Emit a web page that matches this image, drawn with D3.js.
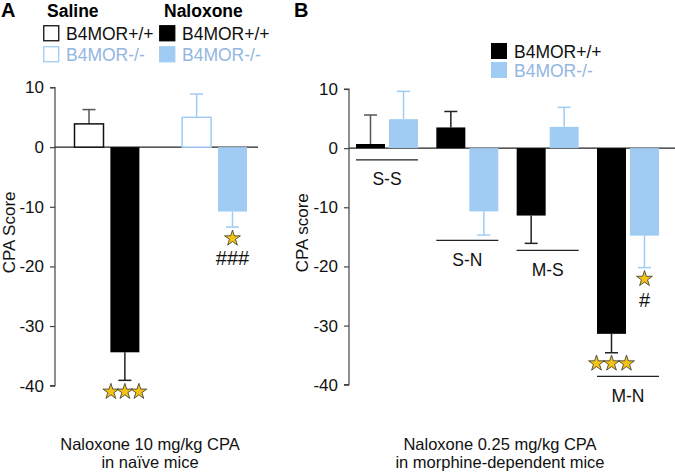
<!DOCTYPE html>
<html><head><meta charset="utf-8">
<script src="https://cdn.jsdelivr.net/npm/d3@7"></script>
<style>
body{margin:0;background:#fff;}
text{font-family:"Liberation Sans",Arial,sans-serif;}
</style></head>
<body><svg id="c" width="675" height="472"></svg>
<script>
// ---- Data ----
const yTicks = [10, 0, -10, -20, -30, -40];
// Panel A
const aCategories = ["Saline B4MOR+/+", "Naloxone B4MOR+/+", "Saline B4MOR-/-", "Naloxone B4MOR-/-"];
const aSlots = [0, 1, 3, 4];
const aValues = [3.9, -34.4, 5.0, -10.8];
const aErrors = [2.4, 4.7, 3.9, 2.6];
// Panel B
const bGroups = ["S-S", "S-N", "M-S", "M-N"];
const bWildValues = [0.7, 3.5, -11.4, -31.4];
const bWildErrors = [4.9, 2.7, 4.7, 3.2];
const bKoValues = [4.9, -10.7, 3.6, -14.8];
const bKoErrors = [4.7, 4.0, 3.3, 5.4];
const bGroupLineY = [-2.0, -15.6, -17.3, -38.6];

const BLUE = "#a0ccf4", BLUE_TXT = "#93b6e2", GOLD = "#f3c316";
const svg = d3.select("#c");

// ---- scales ----
const yA = d3.scaleLinear().domain([-40, 10]).range([385.7, 87.5]);
const yB = d3.scaleLinear().domain([-40, 10]).range([384.7, 89]);
const xA = d3.scaleLinear().domain([0, 4]).range([89, 232.5]);
const xB = d3.scalePoint().domain(bGroups).range([387, 628]);
const barW = 29;

function drawAxis(x0, y, xEnd, label, labelX) {
  const g = svg.append("g").attr("transform", `translate(${x0},0)`)
    .call(d3.axisLeft(y).tickValues(yTicks).tickSize(5).tickPadding(6).tickFormat(d => String(d)));
  g.select(".domain").attr("stroke", "#444").attr("stroke-width", 1.2).attr("d", `M-5,${y(10)}H0V${y(-40)}H-5`);
  g.selectAll(".tick line").attr("stroke", "#444").attr("stroke-width", 1.2);
  g.selectAll(".tick text").attr("font-size", 17).attr("fill", "#111")
    .style("font-family", "Liberation Sans, Arial, sans-serif");
  svg.append("line").attr("x1", x0).attr("x2", xEnd).attr("y1", y(0)).attr("y2", y(0))
    .attr("stroke", "#222").attr("stroke-width", 1.3);
  svg.append("text").attr("transform", `translate(${labelX},${y(-14.3)}) rotate(-90)`)
    .attr("text-anchor", "middle").attr("font-size", 17).attr("fill", "#111").text(label);
}

function bar(cx, v, err, y, style) {
  const top = y(Math.max(v, 0)), bot = y(Math.min(v, 0));
  const end = y(v >= 0 ? v + err : v - err);
  const start = v >= 0 ? top : bot;
  svg.append("line").attr("x1", cx).attr("x2", cx).attr("y1", start).attr("y2", end)
    .attr("stroke", style.err).attr("stroke-width", 1.5);
  svg.append("line").attr("x1", cx - 6.5).attr("x2", cx + 6.5).attr("y1", end).attr("y2", end)
    .attr("stroke", style.err).attr("stroke-width", 1.5);
  svg.append("rect").attr("x", cx - barW / 2).attr("width", barW)
    .attr("y", top).attr("height", Math.max(bot - top, 0.5))
    .attr("fill", style.fill).attr("stroke", style.stroke).attr("stroke-width", style.sw || 0);
}

function stars(cxs, y) {
  cxs.forEach(cx => svg.append("path").attr("d", d3.symbol(d3.symbolStar, 78)())
    .attr("transform", `translate(${cx},${y})`).attr("fill", GOLD)
    .attr("stroke", "#333").attr("stroke-width", 0.8));
}

// ---- Panel A ----
drawAxis(55, yA, 258, "CPA Score", 15);
const aStyles = [
  {fill: "#fff", stroke: "#111", sw: 1.5, err: "#555"},
  {fill: "#000", stroke: "#000", sw: 0, err: "#222"},
  {fill: "#fff", stroke: BLUE, sw: 1.5, err: BLUE},
  {fill: BLUE, stroke: BLUE, sw: 0, err: BLUE}
];
aValues.forEach((v, i) => bar(xA(aSlots[i]), v, aErrors[i], yA, aStyles[i]));
stars([xA(1) - 14, xA(1), xA(1) + 14], yA(-41.0));
stars([xA(4)], yA(-15.3));
svg.append("text").attr("x", xA(4)).attr("y", yA(-18.6)).attr("dy", "0.36em")
  .attr("text-anchor", "middle").attr("font-size", 20).attr("fill", "#111").text("###");

// ---- Panel B ----
drawAxis(349, yB, 675, "CPA score", 308);
const off = 16.5;
bGroups.forEach((g, i) => {
  const c = xB(g);
  bar(c - off, bWildValues[i], bWildErrors[i], yB, {fill: "#000", stroke: "#000", err: i === 0 ? "#555" : "#222"});
  bar(c + off, bKoValues[i], bKoErrors[i], yB, {fill: BLUE, stroke: BLUE, err: BLUE});
  const ly = yB(bGroupLineY[i]);
  svg.append("line").attr("x1", c - 31).attr("x2", c + 31).attr("y1", ly).attr("y2", ly)
    .attr("stroke", "#222").attr("stroke-width", 1.2);
  svg.append("text").attr("x", c).attr("y", ly + 19).attr("dy", "0.36em")
    .attr("text-anchor", "middle").attr("font-size", 17.5).attr("fill", "#111").text(g);
});
const mn = xB("M-N");
stars([mn - off - 15, mn - off, mn - off + 15], yB(-36.4));
stars([mn + off], yB(-22.1));
svg.append("text").attr("x", mn + off).attr("y", yB(-25.6)).attr("dy", "0.36em")
  .attr("text-anchor", "middle").attr("font-size", 20).attr("fill", "#111").text("#");

// ---- Legends & labels ----
svg.append("text").attr("x", 1).attr("y", 17).attr("font-size", 20).attr("font-weight", "bold").text("A");
svg.append("text").attr("x", 294).attr("y", 17).attr("font-size", 20).attr("font-weight", "bold").text("B");
svg.append("text").attr("x", 47).attr("y", 17).attr("font-size", 17.5).attr("font-weight", "bold").text("Saline");
svg.append("text").attr("x", 164).attr("y", 17).attr("font-size", 17.5).attr("font-weight", "bold").text("Naloxone");

const legA = [
  {x: 43, y: 25, fill: "#fff", stroke: "#111", txt: "B4MOR+/+", col: "#111"},
  {x: 43, y: 46, fill: "#fff", stroke: BLUE, txt: "B4MOR-/-", col: BLUE_TXT},
  {x: 159, y: 25, fill: "#000", stroke: "#000", txt: "B4MOR+/+", col: "#111"},
  {x: 159, y: 46, fill: BLUE, stroke: BLUE, txt: "B4MOR-/-", col: BLUE_TXT}
];
legA.forEach(d => {
  svg.append("rect").attr("x", d.x + 0.75).attr("y", d.y + 0.75).attr("width", 15).attr("height", 15)
    .attr("fill", d.fill).attr("stroke", d.stroke).attr("stroke-width", 1.3);
  svg.append("text").attr("x", d.x + 23).attr("y", d.y + 15).attr("font-size", 17.5).attr("fill", d.col).text(d.txt);
});
const legB = [
  {y: 43, fill: "#000", txt: "B4MOR+/+", col: "#111"},
  {y: 62, fill: BLUE, txt: "B4MOR-/-", col: BLUE_TXT}
];
legB.forEach(d => {
  svg.append("rect").attr("x", 491).attr("y", d.y).attr("width", 16).attr("height", 16).attr("fill", d.fill);
  svg.append("text").attr("x", 514).attr("y", d.y + 15).attr("font-size", 17.5).attr("fill", d.col).text(d.txt);
});

const capA = ["Naloxone 10 mg/kg CPA", "in naïve mice"];
const capB = ["Naloxone 0.25 mg/kg CPA", "in morphine-dependent mice"];
[[capA, 150], [capB, 500]].forEach(([lines, cx]) => {
  lines.forEach((t, i) => svg.append("text").attr("x", cx).attr("y", 450 + i * 18)
    .attr("text-anchor", "middle").attr("font-size", 16.5).attr("fill", "#111").text(t));
});
</script></body></html>
